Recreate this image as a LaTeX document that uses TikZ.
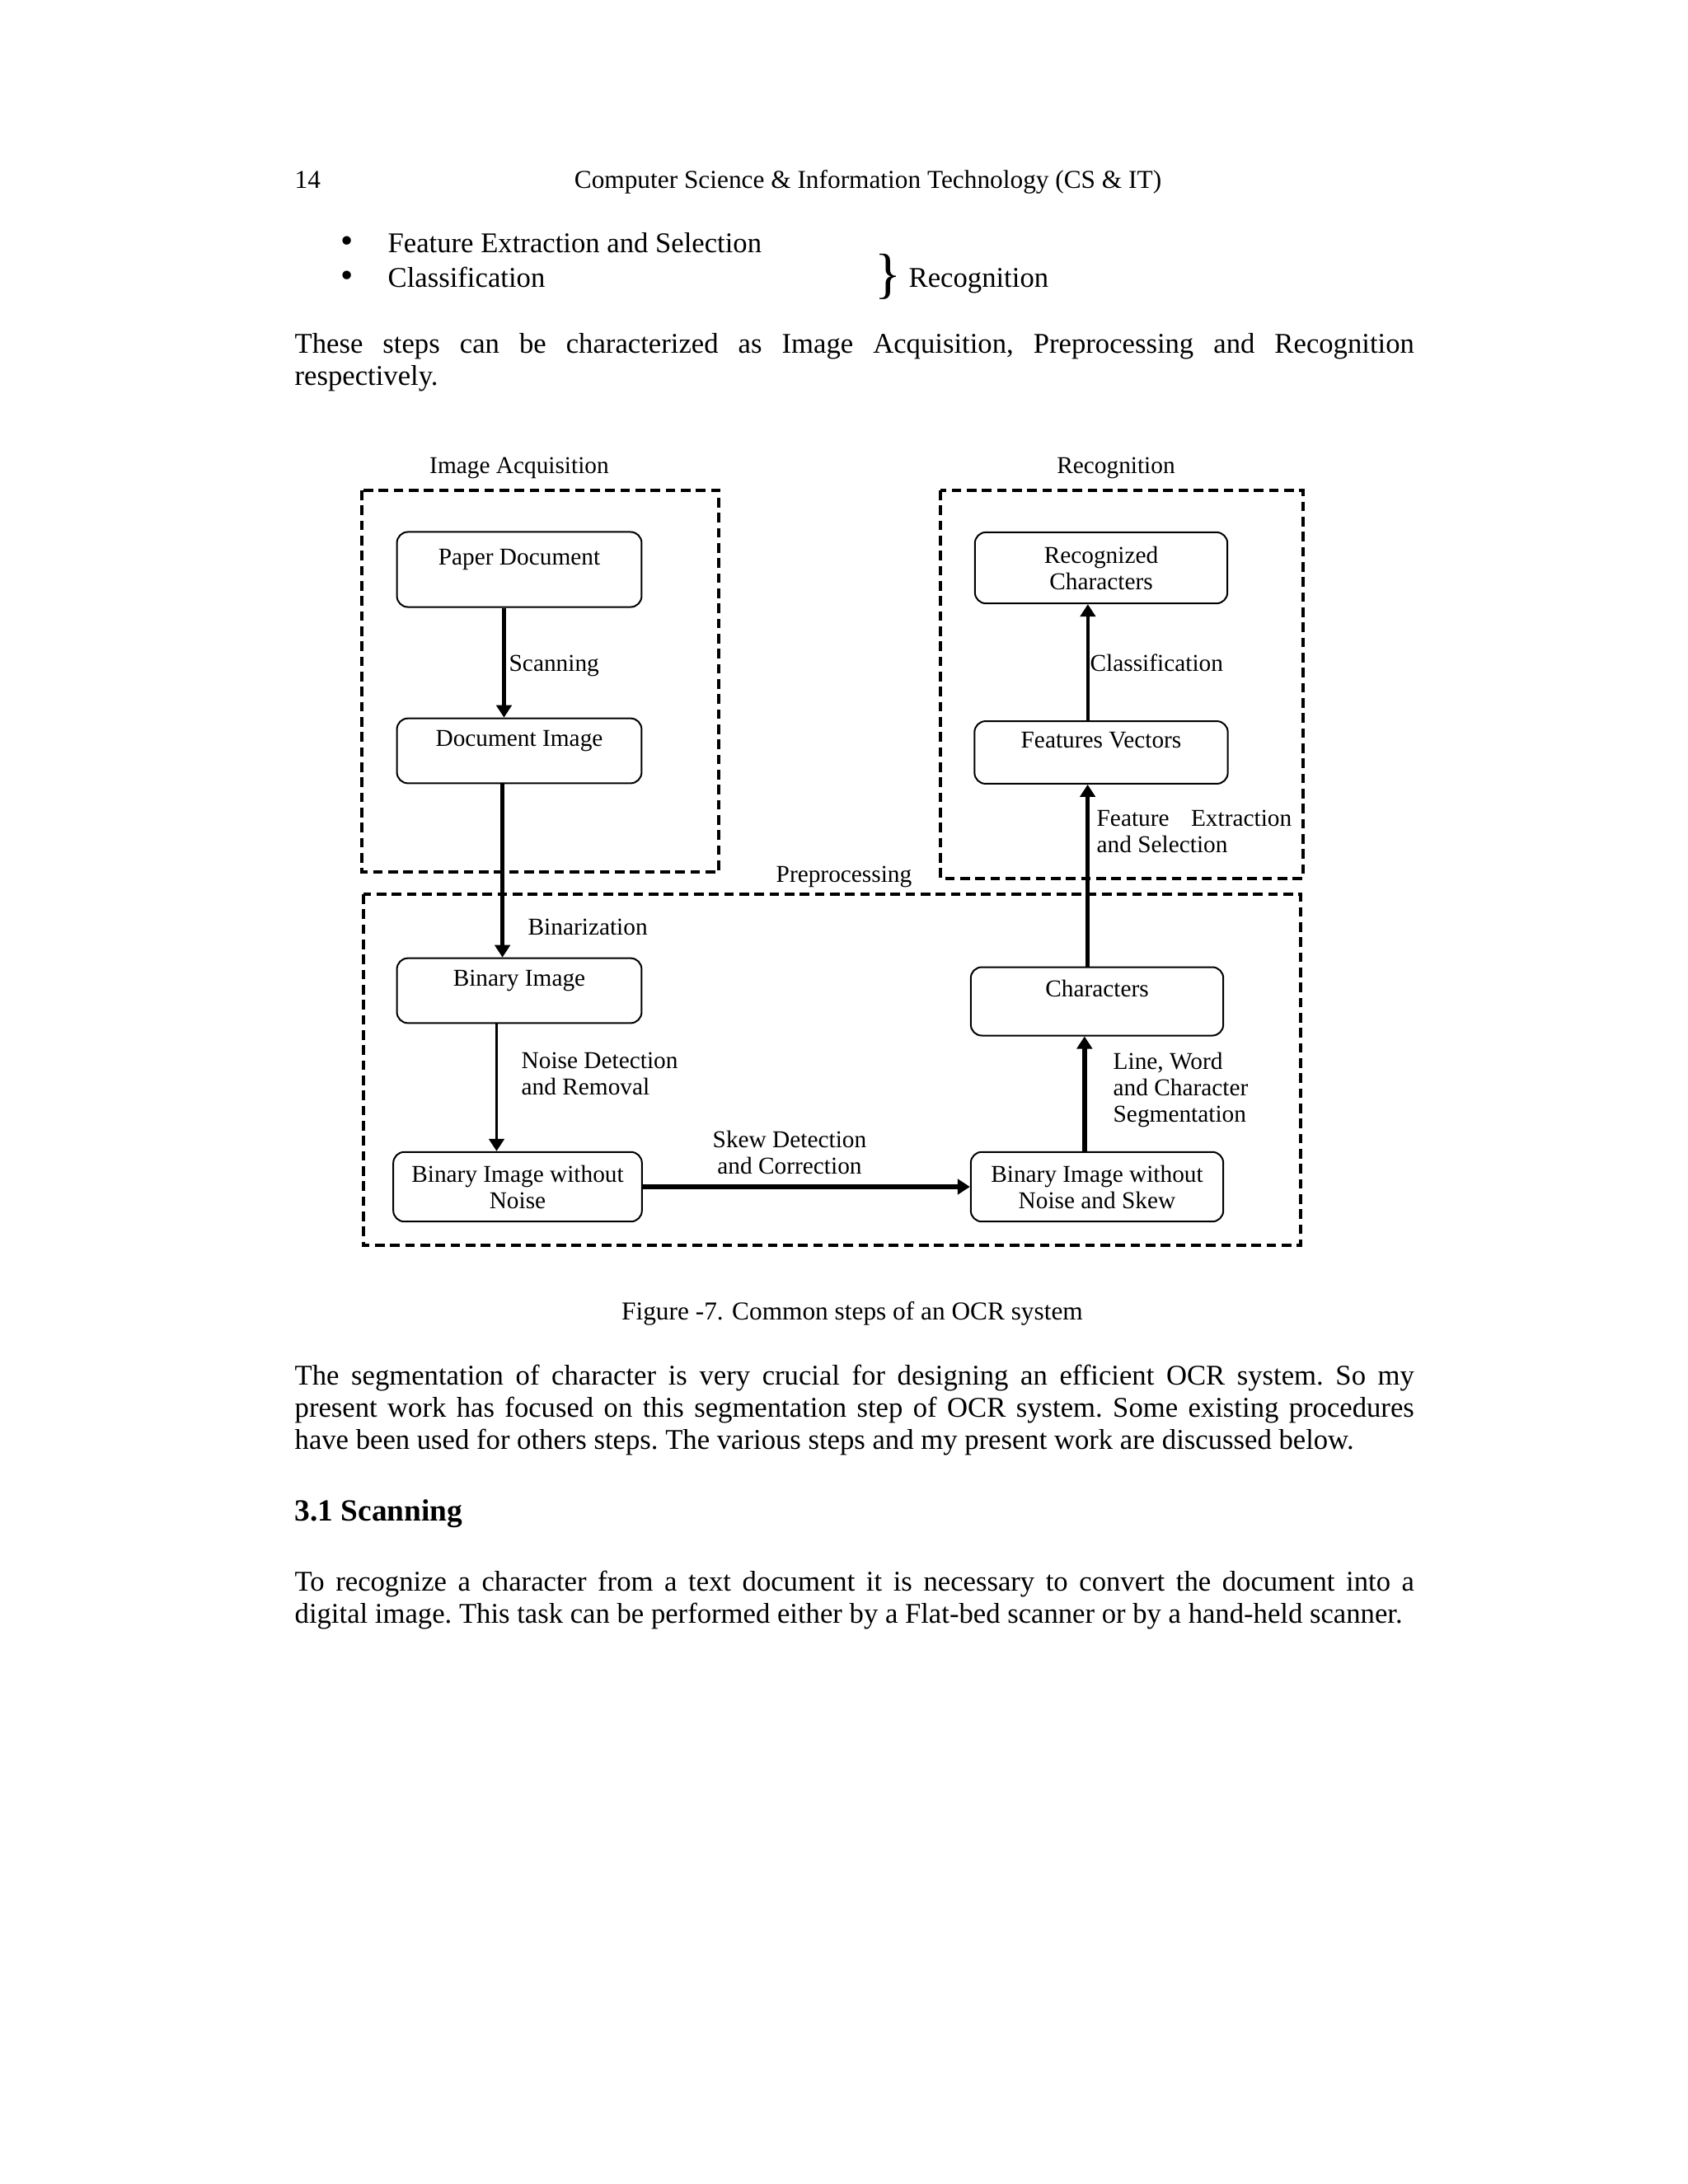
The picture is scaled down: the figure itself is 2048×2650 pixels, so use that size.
\documentclass[tikz,border=0pt]{standalone}
\usepackage{fontspec}
\setmainfont{Liberation Serif}
\usetikzlibrary{arrows.meta}
\newcommand\pxu{0.010542cm}
\newcommand\diagfont{\fontsize{8.8}{9.6}\selectfont}
\newcommand\bodyfont{\fontsize{10.4}{11.7}\selectfont\frenchspacing}
\newcommand\headfont{\fontsize{9.4}{11}\selectfont}
\begin{document}
\begin{tikzpicture}[x=\pxu,y=-\pxu,
    frame/.style={line width=1pt,dash pattern=on 3.5pt off 2pt},
    box/.style={draw,line width=0.6pt,rounded corners=4pt,inner sep=0pt,align=center,font=\diagfont},
    onebox/.style={box,text height=6.5pt,text depth=9.6pt},
    lbl/.style={inner sep=0pt,align=left,font=\diagfont},
    flow/.style={line width=1.6pt,-{Triangle[length=4.5pt,width=5.5pt]}},
    thinflow/.style={line width=1.1pt,-{Triangle[length=4.5pt,width=5.5pt]}},
    body/.style={inner sep=0pt,font=\bodyfont}]
  \useasboundingbox[fill=white] (0,0) rectangle (2048,2650);

  % page text above the figure
  \node[body,anchor=base west,font=\headfont] (pagenum) at (357,228) {14};
  \node[body,anchor=base,font=\headfont] (header) at (1053,228) {Computer Science \& Information Technology (CS \& IT)};
  \node[body,font=\fontsize{13}{13}\selectfont] (dot1) at (421,297) {\textbullet};
  \node[body,anchor=base west] (item1) at (470,306) {Feature Extraction and Selection};
  \node[body,font=\fontsize{13}{13}\selectfont] (dot2) at (421,339) {\textbullet};
  \node[body,anchor=base west] (item2) at (470,348) {Classification};
  \node[body,font=\fontsize{20}{20}\selectfont] (brace) at (1077,336) {\}};
  \node[body,anchor=base west] (recog) at (1102,348) {Recognition};
  \node[body,anchor=north west,text width=14.32cm,align=justify] (para1) at (357,404)
    {These steps can be characterized as Image Acquisition, Preprocessing and Recognition\linebreak respectively.};

  % the three stages
  \draw[frame] (439,595) rectangle (872,1058);
  \draw[frame] (1141,595) rectangle (1581,1066);
  \draw[frame] (441,1085) rectangle (1578,1511);
  \node[lbl,anchor=base] (acqlbl) at (630,574) {Image Acquisition};
  \node[lbl,anchor=base] (reclbl) at (1354,574) {Recognition};
  \node[lbl,anchor=base] (prelbl) at (1024,1070) {Preprocessing};

  % steps
  \node[onebox,minimum width=3.13cm,minimum height=0.96cm] (pd) at (630,691) {Paper Document};
  \node[onebox,minimum width=3.13cm,minimum height=0.83cm] (di) at (630,911) {Document Image};
  \node[onebox,minimum width=3.13cm,minimum height=0.83cm] (bi) at (630,1202) {Binary Image};
  \node[box,minimum width=3.18cm,minimum height=0.89cm] (bn) at (628,1440) {Binary Image without\\Noise};
  \node[box,minimum width=3.23cm,minimum height=0.89cm] (bs) at (1331,1440) {Binary Image without\\Noise and Skew};
  \node[onebox,minimum width=3.23cm,minimum height=0.875cm] (ch) at (1331,1215) {Characters};
  \node[onebox,minimum width=3.24cm,minimum height=0.80cm] (fv) at (1336,913) {Features Vectors};
  \node[box,minimum width=3.23cm,minimum height=0.91cm] (rc) at (1336,689) {Recognized\\Characters};

  % connectors
  \draw[flow] ([xshift=-0.195cm]pd.south) -- ([xshift=-0.195cm]di.north);
  \draw[flow] ([xshift=-0.215cm]di.south) -- ([xshift=-0.215cm]di.south |- bi.north);
  \draw[thinflow] ([xshift=-0.29cm]bi.south) -- ([xshift=-0.29cm]bi.south |- bn.north);
  \draw[flow] (bn.east) -- (bs.west);
  \draw[flow] ([xshift=-0.16cm]bs.north) -- ([xshift=-0.16cm]bs.north |- ch.south);
  \draw[flow,line width=1.35pt] ([xshift=-0.12cm]ch.north) -- ([xshift=-0.12cm]ch.north |- fv.south);
  \draw[thinflow] ([xshift=-0.17cm]fv.north) -- ([xshift=-0.17cm]fv.north |- rc.south);

  % step labels
  \node[lbl,anchor=base west] (scanlbl) at (617,814) {Scanning};
  \node[lbl,anchor=base west] (binlbl) at (640,1134) {Binarization};
  \node[lbl,anchor=north west] (noiselbl) at (632,1276) {Noise Detection\\and Removal};
  \node[lbl,anchor=north,align=center] (skewlbl) at (958,1371) {Skew Detection\\and Correction};
  \node[lbl,anchor=north west] (seglbl) at (1350,1276) {Line, Word\\and Character\\Segmentation};
  \node[lbl,anchor=north west] (featlbl) at (1330,982) {Feature\hspace{0.9em}Extraction\\and Selection};
  \node[lbl,anchor=base west] (classlbl) at (1322,814) {Classification};

  % page text below the figure
  \node[body,anchor=base,font=\headfont] (caption) at (1034,1601) {Figure -7. Common steps of an OCR system};
  \node[body,anchor=north west,text width=14.32cm,align=justify] (para2) at (357,1655)
    {The segmentation of character is very crucial for designing an efficient OCR system. So my\linebreak
     present work has focused on this segmentation step of OCR system. Some existing procedures\linebreak
     have been used for others steps. The various steps and my present work are discussed below.};
  \node[body,anchor=base west,font=\fontsize{11.2}{13}\selectfont\bfseries] (sec) at (357,1845) {3.1 Scanning};
  \node[body,anchor=north west,text width=14.32cm,align=justify] (para3) at (357,1905)
    {To recognize a character from a text document it is necessary to convert the document into a\linebreak
     digital image. This task can be performed either by a Flat-bed scanner or by a hand-held scanner.};
\end{tikzpicture}
\end{document}
